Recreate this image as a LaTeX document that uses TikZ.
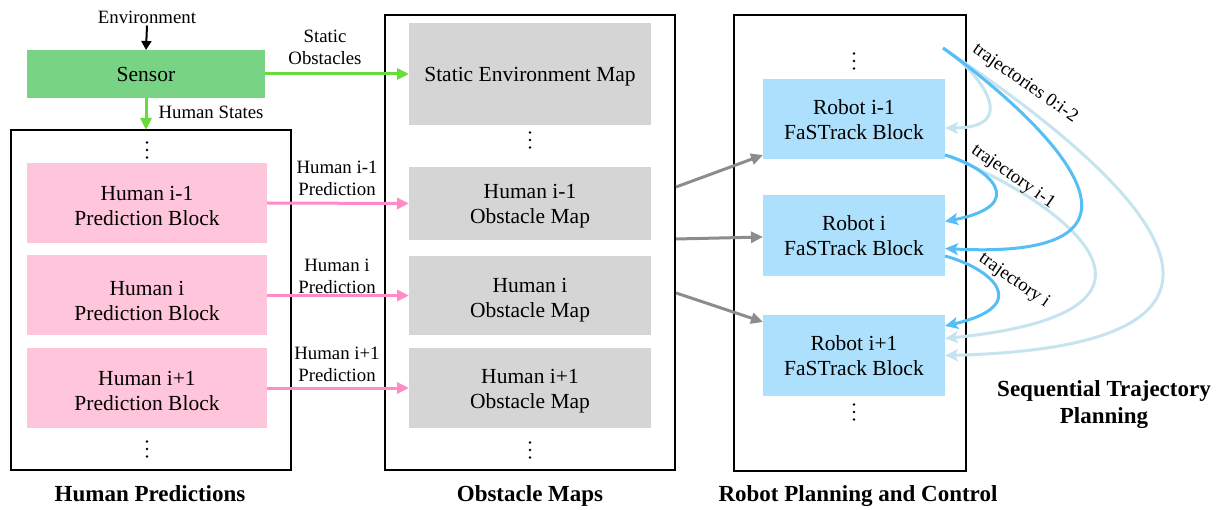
\documentclass[tikz,border=0pt]{standalone}
\usepackage{fontspec}
\setmainfont{Liberation Serif}
\usetikzlibrary{arrows.meta,calc}

\definecolor{sensorgreen}{HTML}{78D384}
\definecolor{flowgreen}{HTML}{66DD38}
\definecolor{predpink}{HTML}{FFC5DA}
\definecolor{flowpink}{HTML}{FF8CC8}
\definecolor{mapgray}{HTML}{D5D5D5}
\definecolor{flowgray}{HTML}{8C8C8C}
\definecolor{robotblue}{HTML}{ADE0FC}
\definecolor{trajdark}{HTML}{55BFF5}
\definecolor{trajlight}{HTML}{C6E3F0}

\tikzset{
  block/.style={inner sep=0pt, outer sep=0pt},
  btext/.style={align=center, inner sep=0pt, font=\fontsize{21.5}{25}\selectfont},
  frame/.style={draw=black, line width=2.8pt, inner sep=0pt, outer sep=0pt},
  lbl/.style={align=center, inner sep=0pt, font=\fontsize{18.8}{22}\selectfont},
  title/.style={align=center, inner sep=0pt, font=\fontsize{23}{27}\selectfont\bfseries},
  flow/.style={line width=3pt, -{Triangle[length=12pt,width=11pt]}},
  darkarc/.style={draw=trajdark, line width=3pt, -{Stealth[length=13pt,width=12pt,inset=3pt]}},
  lightarc/.style={draw=trajlight, line width=3pt, -{Stealth[length=13pt,width=12pt,inset=3pt]}},
}

% vertical ellipsis drawn as three small dots around (#1,#2)
\newcommand\stackdots[2]{%
  \fill (#1,#2-7.5) circle (1.3pt) (#1,#2) circle (1.3pt) (#1,#2+7.5) circle (1.3pt);}

\begin{document}
\begin{tikzpicture}[x=1pt,y=-1pt]
\useasboundingbox (0,0) rectangle (1223,510);

% outer frames
\node[frame, minimum width=280pt, minimum height=340pt] (hpframe) at (151,300) {};
\node[frame, minimum width=290pt, minimum height=455pt] (omframe) at (530,242.5) {};
\node[frame, minimum width=232pt, minimum height=456pt] (rpframe) at (850,243) {};

% sensor
\node[lbl] (env) at (147,17) {Environment};
\node[block, fill=sensorgreen, minimum width=238pt, minimum height=48pt,
  label={[btext]center:Sensor}] (sensor) at (146,74) {};

% human prediction blocks
\node[block, fill=predpink, minimum width=240pt, minimum height=80pt,
  label={[btext, yshift=-2.5pt]center:{Human i-1\\Prediction Block}}] (hp1) at (147,203) {};
\node[block, fill=predpink, minimum width=240pt, minimum height=80pt,
  label={[btext, yshift=-5.5pt]center:{Human i\\Prediction Block}}] (hp2) at (147,295.5) {};
\node[block, fill=predpink, minimum width=240pt, minimum height=80pt,
  label={[btext, yshift=-2.5pt]center:{Human i+1\\Prediction Block}}] (hp3) at (147,388) {};
\stackdots{147}{150}
\stackdots{147}{449}

% obstacle maps
\node[block, fill=mapgray, minimum width=242pt, minimum height=102pt,
  label={[btext, yshift=-3pt]center:Static Environment Map}] (sem) at (530,74) {};
\node[block, fill=mapgray, minimum width=242pt, minimum height=73pt,
  label={[btext, yshift=-3pt]center:{Human i-1\\Obstacle Map}}] (om1) at (530,203.5) {};
\node[block, fill=mapgray, minimum width=242pt, minimum height=79pt,
  label={[btext, yshift=-4.5pt]center:{Human i\\Obstacle Map}}] (om2) at (530,295.5) {};
\node[block, fill=mapgray, minimum width=242pt, minimum height=80pt,
  label={[btext, yshift=-3.5pt]center:{Human i+1\\Obstacle Map}}] (om3) at (530,388) {};
\stackdots{530}{140}
\stackdots{530}{450}

% robot blocks
\node[block, fill=robotblue, minimum width=182pt, minimum height=80pt,
  label={[btext, yshift=-1pt]center:{Robot i-1\\FaSTrack Block}}] (rb1) at (854,119) {};
\node[block, fill=robotblue, minimum width=182pt, minimum height=81pt,
  label={[btext]center:{Robot i\\FaSTrack Block}}] (rb2) at (854,235.5) {};
\node[block, fill=robotblue, minimum width=182pt, minimum height=81pt,
  label={[btext]center:{Robot i+1\\FaSTrack Block}}] (rb3) at (854,355.5) {};
\stackdots{854}{61}
\stackdots{854}{412}

% titles
\node[title, anchor=base] (tHP) at (150,501) {Human Predictions};
\node[title, anchor=base] (tOM) at (530,501) {Obstacle Maps};
\node[title, anchor=base] (tRP) at (858,501) {Robot Planning and Control};
\node[title] (tST) at (1104,405) {Sequential Trajectory\\Planning};

% sensor flows
\draw[line width=2pt, -{Triangle[length=9pt,width=10pt]}] (env.south) ++(0,2) -- (sensor.north);
\draw[flow, draw=flowgreen, fill=flowgreen] (sensor.south) -- (hpframe.north -| sensor.south);
\node[lbl] (lHS) at (211,112) {Human States};
\draw[flow, draw=flowgreen, fill=flowgreen] (sensor.east) -- (sem.west);
\node[lbl] (lSO) at (325,47) {Static\\Obstacles};

% prediction flows
\draw[flow, draw=flowpink, fill=flowpink] (hp1.east) -- (om1.west -| sem.west);
\draw[flow, draw=flowpink, fill=flowpink] (hp2.east) -- (om2.west);
\draw[flow, draw=flowpink, fill=flowpink] (hp3.east) -- (om3.west);
\node[lbl] (lP1) at (337,178) {Human i-1\\Prediction};
\node[lbl] (lP2) at (337,276) {Human i\\Prediction};
\node[lbl] (lP3) at (337,364) {Human i+1\\Prediction};

% obstacle maps to planners
\coordinate (g1) at (676,187);
\coordinate (g2) at (676,239);
\coordinate (g3) at (676,293);
\draw[flow, draw=flowgray, fill=flowgray] (g1) -- ($(rb1.south west)+(0,-4)$);
\draw[flow, draw=flowgray, fill=flowgray] (g2) -- ($(rb2.west)+(0,1.5)$);
\draw[flow, draw=flowgray, fill=flowgray] (g3) -- ($(rb3.north west)+(0,7)$);

% sequential trajectory sharing
\coordinate (tstart) at (943,48);
\draw[lightarc] (tstart) .. controls (975,68) and (1025,128) .. ($(rb1.east)+(0,9)$);
\draw[lightarc] (tstart) .. controls (1080,140) and (1355,345) .. ($(rb3.east)+(0,0)$);
\draw[lightarc] ($(rb1.south east)+(0,-4)$) .. controls (1040,190) and (1225,310) .. ($(rb3.east)+(0,-17)$);
\draw[darkarc] (tstart) .. controls (1030,110) and (1200,262) .. ($(rb2.east)+(0,13)$);
\draw[darkarc] ($(rb1.south east)+(0,-4)$) .. controls (990,168) and (1030,205) .. ($(rb2.east)+(0,-14)$);
\draw[darkarc] ($(rb2.south east)+(0,-20)$) .. controls (990,268) and (1035,305) .. ($(rb3.north east)+(0,11)$);

\node[lbl, rotate=-35] (lT0) at (1025,84) {trajectories 0:i-2};
\node[lbl, rotate=-35] (lT1) at (1013,177) {trajectory i-1};
\node[lbl, rotate=-35] (lT2) at (1014,281) {trajectory i};
\end{tikzpicture}
\end{document}
